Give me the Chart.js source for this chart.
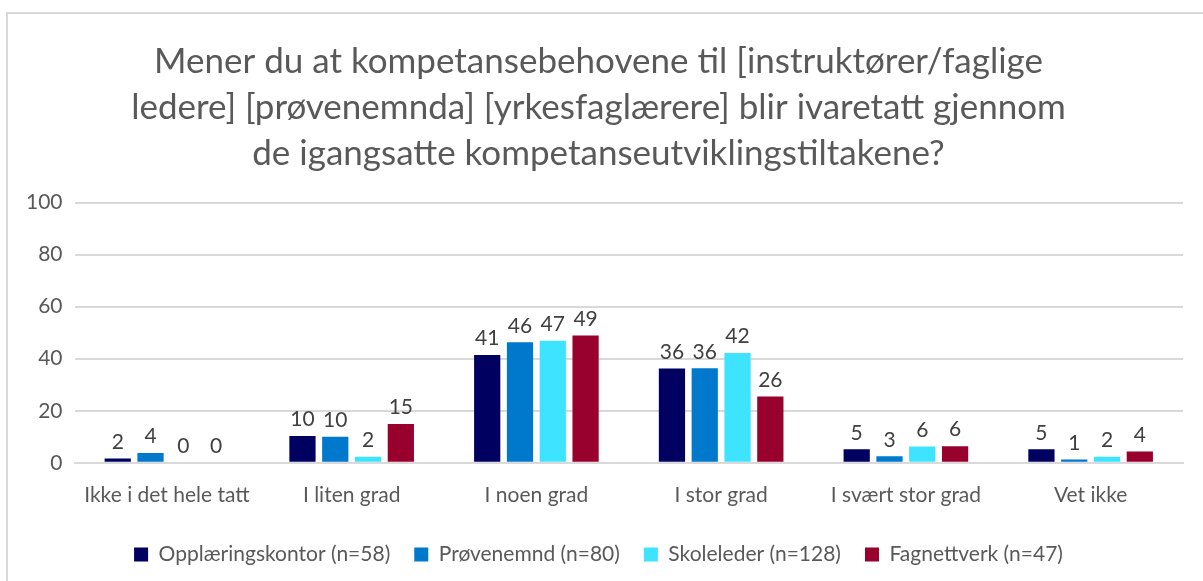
<!DOCTYPE html>
<html>
<head>
<meta charset="utf-8">
<script src="https://cdn.jsdelivr.net/npm/chart.js@4"></script>
<style>
  body { margin: 0; background: #fff; overflow: hidden; }
  #frame { position: absolute; left: 6px; top: 12px; width: 1300px; height: 700px; border: 2px solid #d9d9d9; }
  #wrap { position: absolute; left: 0; top: 0; width: 1203px; height: 581px; }
</style>
</head>
<body>
<div id="frame"></div>
<div id="wrap"><canvas id="chart"></canvas></div>
<script>
const categories = ['Ikke i det hele tatt', 'I liten grad', 'I noen grad', 'I stor grad', 'I svært stor grad', 'Vet ikke'];
const opplaering = [1.7, 10.3, 41.4, 36.2, 5.2, 5.2];
const provenemnd = [3.8, 10, 46.3, 36.3, 2.5, 1.3];
const skoleleder = [0, 2.3, 46.9, 42.2, 6.3, 2.3];
const fagnettverk = [0, 14.9, 48.9, 25.5, 6.4, 4.3];
const yTicks = [0, 20, 40, 60, 80, 100];
const titleLines = [
  'Mener du at kompetansebehovene til [instruktører/faglige',
  'ledere] [prøvenemnda] [yrkesfaglærere] blir ivaretatt gjennom',
  'de igangsatte kompetanseutviklingstiltakene?'
];

const FONT = 'Lato, "Open Sans", sans-serif';

// draws the rounded value above each bar
const barLabels = {
  id: 'barLabels',
  afterDatasetsDraw(chart) {
    const ctx = chart.ctx;
    ctx.save();
    ctx.font = '21px ' + FONT;
    ctx.fillStyle = '#404040';
    ctx.textAlign = 'center';
    ctx.textBaseline = 'bottom';
    chart.data.datasets.forEach((ds, i) => {
      chart.getDatasetMeta(i).data.forEach((bar, j) => {
        ctx.fillText(Math.round(ds.data[j]), bar.x, bar.y - 6);
      });
    });
    ctx.restore();
  }
};

new Chart(document.getElementById('chart'), {
  type: 'bar',
  data: {
    labels: categories,
    datasets: [
      { label: 'Opplæringskontor (n=58)', data: opplaering, backgroundColor: '#000060' },
      { label: 'Prøvenemnd (n=80)', data: provenemnd, backgroundColor: '#0078cc' },
      { label: 'Skoleleder (n=128)', data: skoleleder, backgroundColor: '#3de3ff' },
      { label: 'Fagnettverk (n=47)', data: fagnettverk, backgroundColor: '#98002e' }
    ]
  },
  options: {
    responsive: true,
    maintainAspectRatio: false,
    animation: false,
    layout: { padding: { left: 14, right: 20, top: 39, bottom: 6 } },
    datasets: { bar: { categoryPercentage: 0.71, barPercentage: 0.8 } },
    plugins: {
      title: {
        display: true,
        text: titleLines,
        color: '#595959',
        font: { family: FONT, size: 35, weight: 'normal', lineHeight: 1.31 },
        padding: { top: 0, bottom: 26 }
      },
      legend: {
        position: 'bottom',
        labels: {
          color: '#595959',
          font: { family: FONT, size: 21 },
          boxWidth: 14,
          boxHeight: 14,
          padding: 24
        }
      },
      tooltip: { enabled: false }
    },
    scales: {
      x: {
        grid: { display: false },
        border: { display: true, color: '#d9d9d9', width: 2 },
        ticks: { color: '#595959', font: { family: FONT, size: 21 }, padding: 12, maxRotation: 0 }
      },
      y: {
        min: 0,
        max: 100,
        afterBuildTicks: axis => { axis.ticks = yTicks.map(v => ({ value: v })); },
        grid: { color: '#d9d9d9', lineWidth: 2, drawTicks: false },
        border: { display: false },
        ticks: { color: '#595959', font: { family: FONT, size: 21 }, padding: 12 }
      }
    }
  },
  plugins: [barLabels]
});
</script>
</body>
</html>
